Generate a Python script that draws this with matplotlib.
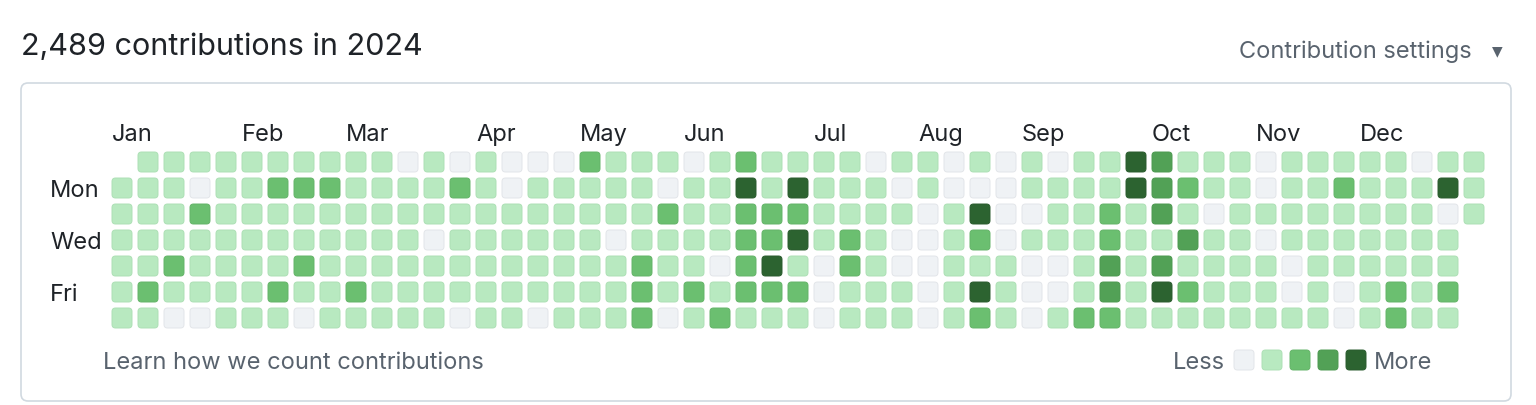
import matplotlib
matplotlib.use("Agg")
import matplotlib.pyplot as plt
from matplotlib.patches import FancyBboxPatch

plt.rcParams['font.family'] = ['Inter', 'Liberation Sans', 'DejaVu Sans']

# ---------------- data ----------------
title = "2,489 contributions in 2024"
N = None
# contribution level (0-4) per week column, one list per weekday row
sun = [N, 1, 1, 1, 1, 1, 1, 1, 1, 1, 1,
       0, 1, 0, 1, 0, 0, 0, 2, 1, 1, 1,
       0, 1, 2, 1, 1, 1, 1, 0, 1, 1,
       0, 1, 0, 1, 0, 1, 1, 4, 3, 1,
       1, 1, 0, 1, 1, 1, 1, 1, 0, 1, 1]
mon = [1, 1, 1, 0, 1, 1, 2, 2, 2, 1, 1,
       1, 1, 2, 1, 0, 1, 1, 1, 1, 1, 0,
       1, 1, 4, 1, 4, 1, 1, 1, 0, 1,
       0, 0, 0, 1, 1, 1, 1, 4, 3, 2,
       1, 1, 0, 1, 1, 2, 1, 1, 1, 4, 1]
tue = [1, 1, 1, 2, 1, 1, 1, 1, 1, 1, 1,
       1, 1, 1, 1, 1, 1, 1, 1, 1, 1, 2,
       1, 1, 2, 2, 2, 1, 1, 1, 1, 0,
       1, 4, 0, 0, 1, 1, 2, 1, 3, 1,
       0, 1, 1, 1, 1, 1, 1, 1, 1, 0, 1]
wed = [1, 1, 1, 1, 1, 1, 1, 1, 1, 1, 1,
       1, 0, 1, 1, 1, 1, 1, 1, 0, 1, 1,
       1, 1, 2, 2, 4, 1, 2, 1, 0, 0,
       1, 2, 0, 1, 1, 1, 2, 1, 1, 3,
       1, 1, 0, 1, 1, 1, 1, 1, 1, 1, N]
thu = [1, 1, 2, 1, 1, 1, 1, 2, 1, 1, 1,
       1, 1, 1, 1, 1, 1, 1, 1, 1, 2, 1,
       1, 0, 2, 4, 1, 0, 2, 1, 0, 0,
       1, 1, 1, 0, 0, 1, 3, 1, 3, 1,
       1, 1, 1, 0, 1, 1, 1, 1, 1, 1, N]
fri = [1, 2, 1, 1, 1, 1, 2, 1, 1, 2, 1,
       1, 1, 1, 1, 1, 1, 1, 1, 1, 2, 1,
       2, 1, 2, 2, 2, 0, 1, 1, 1, 0,
       1, 4, 1, 0, 0, 1, 3, 1, 4, 2,
       1, 1, 1, 0, 1, 0, 1, 2, 1, 2, N]
sat = [1, 1, 0, 0, 1, 1, 1, 0, 1, 1, 1,
       1, 1, 0, 1, 1, 0, 1, 1, 1, 2, 0,
       1, 2, 1, 1, 1, 0, 1, 1, 1, 0,
       1, 2, 1, 0, 1, 2, 2, 1, 1, 1,
       1, 1, 1, 1, 1, 0, 1, 2, 1, 1, N]
weekday_rows = [sun, mon, tue, wed, thu, fri, sat]

month_names = ["Jan", "Feb", "Mar", "Apr", "May", "Jun",
               "Jul", "Aug", "Sep", "Oct", "Nov", "Dec"]
month_cols = [0, 5, 9, 14, 18, 22, 27, 31, 35, 40, 44, 48]
day_labels = ["Mon", "Wed", "Fri"]
day_label_rows = [1, 3, 5]

level_colors = ["#eff2f5", "#b8e9c0", "#6bbf70", "#52a156", "#2c6330"]
level_edges = ["#e2e5e9", "#ade0b5", "#64b469", "#4c9950", "#2a5c2e"]

# ---------------- layout ----------------
W, H = 1536, 406
fig = plt.figure(figsize=(W / 100, H / 100), dpi=100)
ax = fig.add_axes([0, 0, 1, 1])
ax.set_xlim(0, W)
ax.set_ylim(H, 0)
ax.axis("off")

x0, y0, step, cell = 112, 153, 26, 20
dark = "#1f2328"
gray = "#59636e"
border = "#d1d9e0"
fs = 17
dy = 2  # small baseline nudge

# header
ax.text(21, 45 + dy, title, fontsize=22, color=dark, ha="left", va="center")
ax.text(1472, 50 + dy, "Contribution settings", fontsize=fs, color=gray,
        ha="right", va="center")
ax.text(1497, 51, "\u25BC", fontsize=10, color=gray, ha="center", va="center",
        family="DejaVu Sans")

# container box
ax.add_patch(FancyBboxPatch((21, 84), 1490, 318,
                            boxstyle="round,pad=0,rounding_size=7",
                            facecolor="white", edgecolor=border, linewidth=1.2))

# months
for name, c in zip(month_names, month_cols):
    ax.text(x0 + c * step, 133 + dy, name, fontsize=fs, color=dark,
            ha="left", va="center")

# day labels
for name, r in zip(day_labels, day_label_rows):
    ax.text(50, y0 + r * step + cell / 2 + dy, name, fontsize=fs, color=dark,
            ha="left", va="center")

# cells
for r, row in enumerate(weekday_rows):
    for c, lvl in enumerate(row):
        if lvl is None:
            continue
        ax.add_patch(FancyBboxPatch((x0 + c * step, y0 + r * step), cell, cell,
                                    boxstyle="round,pad=0,rounding_size=3.5",
                                    facecolor=level_colors[lvl],
                                    edgecolor=level_edges[lvl], linewidth=0.7))

# footer
ax.text(103, 361 + dy, "Learn how we count contributions", fontsize=fs,
        color=gray, ha="left", va="center")
lx = 1234
ax.text(lx - 9, 361 + dy, "Less", fontsize=fs, color=gray, ha="right", va="center")
for i, (fc, ec) in enumerate(zip(level_colors, level_edges)):
    ax.add_patch(FancyBboxPatch((lx + i * 28, 351), cell, cell,
                                boxstyle="round,pad=0,rounding_size=3.5",
                                facecolor=fc, edgecolor=ec, linewidth=0.7))
ax.text(lx + 4 * 28 + cell + 8, 361 + dy, "More", fontsize=fs, color=gray,
        ha="left", va="center")

fig.savefig("out.png", dpi=100, facecolor="white")
